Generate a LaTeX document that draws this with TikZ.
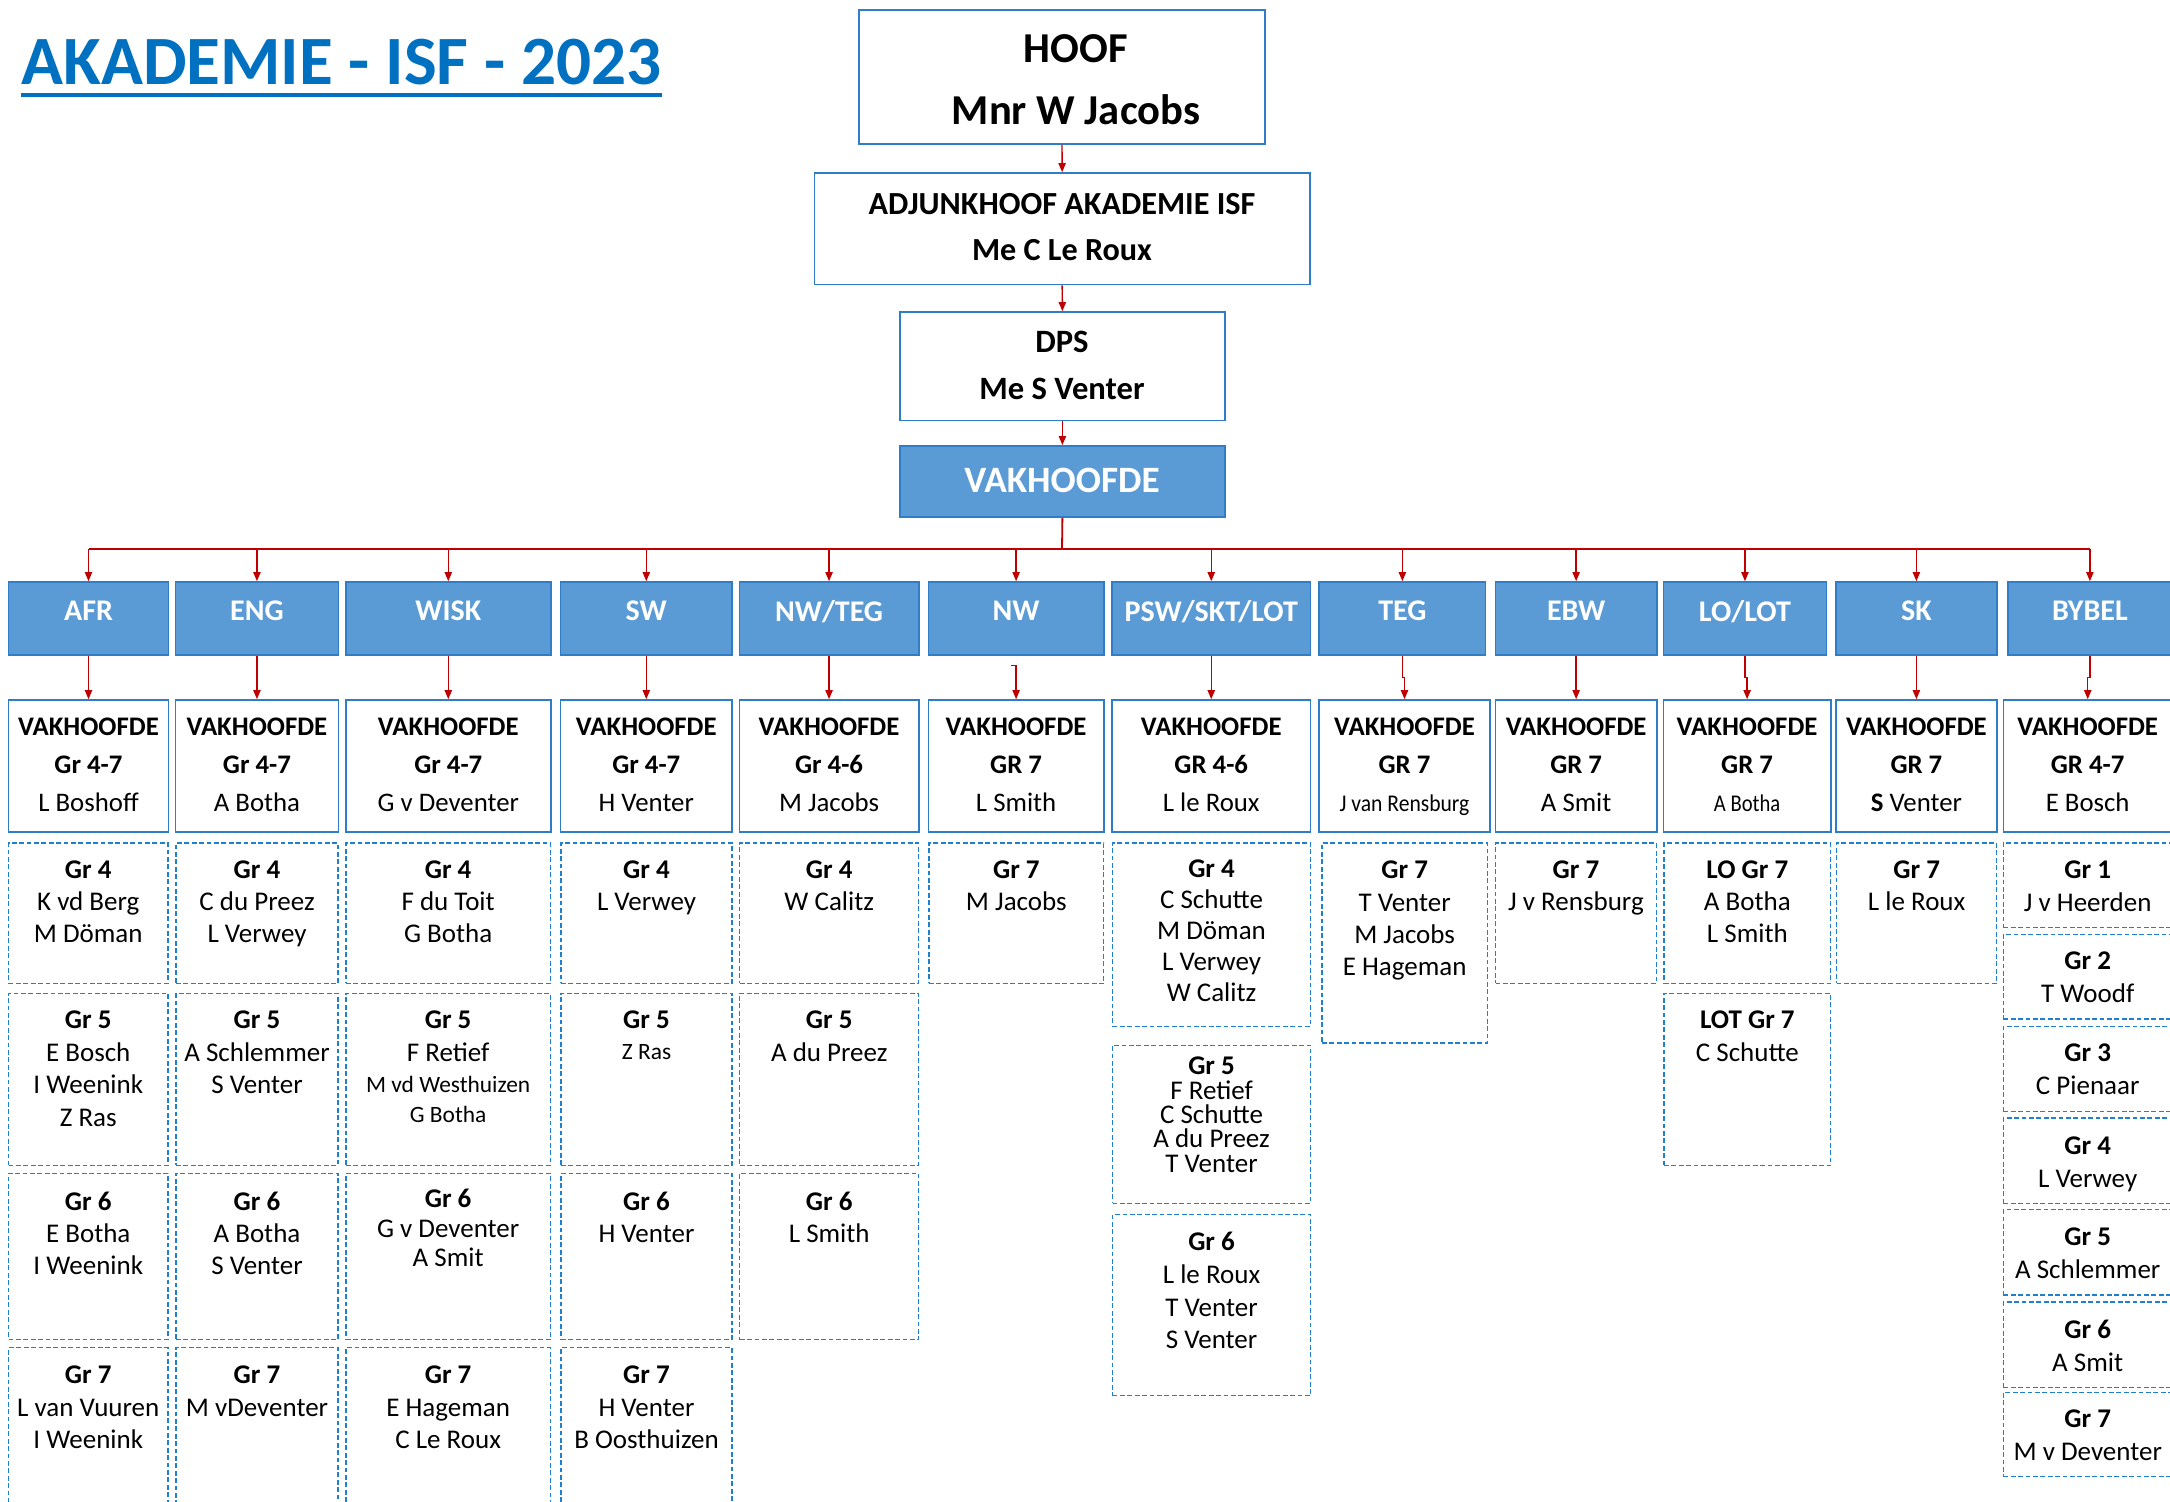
\documentclass[tikz,border=0pt]{standalone}
\usepackage{fontspec}
\setmainfont{Carlito}
\usepackage{graphicx}
\usetikzlibrary{arrows.meta,fit}
\definecolor{titleblue}{HTML}{0070C0}
\definecolor{boxblue}{HTML}{2E7DC6}
\definecolor{fillblue}{HTML}{5B9BD5}
\definecolor{dashblue}{HTML}{1F80D0}
\definecolor{linered}{HTML}{C00000}
\tikzset{
  solidbox/.style={draw=boxblue, line width=0.8pt, fill=white, inner sep=0pt},
  subjbox/.style={draw=boxblue, line width=0.8pt, fill=fillblue, inner sep=0pt},
  dashbox/.style={draw=dashblue, line width=0.6pt, dash pattern=on 2.4pt off 1.3pt, inner sep=0pt},
  txt/.style={inner sep=0pt, align=center, anchor=north},
  arr/.style={draw=linered, line width=0.7pt, -{Triangle[length=4.5pt,width=3.6pt]}},
  busline/.style={draw=linered, line width=0.9pt},
}
% name, x1, y1, x2, y2, cap top, pitch, text
\newcommand{\GrBox}[8]{%
  \node[dashbox, fit={(#2,#3) (#4,#5)}] (#1) {};
  \node[txt, font=\fontsize{13.5}{#7}\selectfont] (#1-t) at ({(#2+#4)/2},#6) {#8};
}
% name, x1, x2, text
\newcommand{\SubjBox}[4]{%
  \node[subjbox, fit={(#2,582) (#3,655)}] (#1) {};
  \node[txt, text=white, font=\fontsize{15}{17}\selectfont\bfseries] (#1-t) at ({(#2+#3)/2},600.5) {#4};
}
% name, x1, x2, grade, teacher
\newcommand{\HeadBox}[5]{%
  \node[solidbox, fit={(#2,700) (#3,832)}] (#1) {};
  \node[txt, font=\fontsize{13.4}{19}\selectfont] (#1-t) at ({(#2+#3)/2},718) {\textbf{VAKHOOFDE}\\\textbf{#4}\\#5};
}
\begin{document}
\begin{tikzpicture}[x=0.5pt,y=-0.5pt]
\useasboundingbox (0,0) rectangle (2170,1502);
\fill[white] (0,0) rectangle (2170,1502);

% title
\node[inner sep=0pt, anchor=base west, text=titleblue, font=\fontsize{34.6}{40}\selectfont\bfseries] (title) at (21,85) {AKADEMIE - ISF - 2023};
\draw[titleblue, line width=2pt] ([yshift=-4.85pt]title.base west) -- ([yshift=-4.85pt]title.base east);

% top chain
\node[solidbox, fit={(859,10) (1265,144)}] (hoof) {};
\node[txt, font=\fontsize{21.3}{31.2}\selectfont\bfseries] (hoof-t) at (1076,34) {HOOF\\Mnr W Jacobs};
\node[solidbox, fit={(814.5,173) (1309.8,284.5)}] (adj) {};
\node[txt, font=\fontsize{16.1}{22.6}\selectfont\bfseries] (adj-t) at (1062,193.3) {ADJUNKHOOF AKADEMIE ISF\\Me C Le Roux};
\node[solidbox, fit={(900,312) (1224.8,420.7)}] (dps) {};
\node[txt, font=\fontsize{16.3}{23.8}\selectfont\bfseries] (dps-t) at (1062,330.5) {DPS\\Me S Venter};
\node[subjbox, fit={(900,445.9) (1224.8,517)}] (vak) {};
\node[txt, text=white, font=\fontsize{18.6}{20}\selectfont\bfseries] (vak-t) at (1062,467.5) {VAKHOOFDE};

\draw[arr] (hoof.south) -- (adj.north);
\draw[arr] (adj.south) -- (dps.north);
\draw[arr] (dps.south) -- (vak.north);

% subject boxes
\SubjBox{s1}{8.5}{168.5}{AFR}
\SubjBox{s2}{175.5}{338.4}{ENG}
\SubjBox{s3}{345.9}{550.7}{WISK}
\SubjBox{s4}{560.6}{732}{SW}
\SubjBox{s5}{739.3}{918.8}{NW/TEG}
\SubjBox{s6}{928.4}{1103.8}{NW}
\SubjBox{s7}{1112}{1310.5}{PSW/SKT/LOT}
\SubjBox{s8}{1319.2}{1485.5}{TEG}
\SubjBox{s9}{1495.6}{1656.7}{EBW}
\SubjBox{s10}{1663.4}{1826.5}{LO/LOT}
\SubjBox{s11}{1836}{1996.8}{SK}
\SubjBox{s12}{2007.8}{2172}{BYBEL}

% bus
\coordinate (bus) at (1062,549);
\draw[busline] (vak.south) -- (bus);
\draw[busline] (s1.north |- bus) -- (s12.north |- bus);
\foreach \s in {s1,s2,s3,s4,s5,s6,s7,s8,s9,s10,s11,s12}
  \draw[arr] (\s.north |- bus) -- (\s.north);

% head boxes
\HeadBox{v1}{8.5}{168.5}{Gr 4-7}{L Boshoff}
\HeadBox{v2}{175.5}{338.4}{Gr 4-7}{A Botha}
\HeadBox{v3}{345.9}{550.7}{Gr 4-7}{G v Deventer}
\HeadBox{v4}{560.6}{732}{Gr 4-7}{H Venter}
\HeadBox{v5}{739.3}{918.8}{Gr 4-6}{M Jacobs}
\HeadBox{v6}{928.4}{1103.8}{GR 7}{L Smith}
\HeadBox{v7}{1112}{1310.5}{GR 4-6}{L le Roux}
\HeadBox{v8}{1319.2}{1489.8}{GR 7}{\scalebox{0.9}[1]{\fontsize{12}{12}\selectfont J van Rensburg}}
\HeadBox{v9}{1495.6}{1656.7}{GR 7}{A Smit}
\HeadBox{v10}{1663.4}{1830.8}{GR 7}{\scalebox{0.86}[1]{\fontsize{12}{12}\selectfont A Botha}}
\HeadBox{v11}{1836}{1996.8}{GR 7}{\textbf{S} Venter}
\HeadBox{v12}{2003.4}{2172}{GR 4-7}{E Bosch}

\draw[arr] (s1.south) -- (v1.north);
\draw[arr] (s2.south) -- (v2.north);
\draw[arr] (s3.south) -- (v3.north);
\draw[arr] (s4.south) -- (v4.north);
\draw[arr] (s5.south) -- (v5.north);
\coordinate (nwstart) at (1010.6,665.7);
\draw[arr] (nwstart) -| (v6.north);
\draw[arr] (s7.south) -- (v7.north);
\draw[arr] (s8.south) -- ++(0,22) -| (v8.north);
\draw[arr] (s9.south) -- (v9.north);
\draw[arr] (s10.south) -- ++(0,22) -| (v10.north);
\draw[arr] (s11.south) -- (v11.north);
\draw[arr] (s12.south) -- ++(0,22) -| (v12.north);

% AFR
\GrBox{a4}{8.5}{842.9}{168}{983.4}{860.8}{16}{\textbf{Gr 4}\\K vd Berg\\M Döman}
\GrBox{a5}{8.5}{993.3}{168}{1165.2}{1010.8}{16.2}{\textbf{Gr 5}\\E Bosch\\I Weenink\\Z Ras}
\GrBox{a6}{8.5}{1173.3}{168}{1339.4}{1191.3}{16.2}{\textbf{Gr 6}\\E Botha\\I Weenink}
\GrBox{a7}{8.5}{1347.8}{168}{1515}{1365.3}{16.3}{\textbf{Gr 7}\\L van Vuuren\\I Weenink}
% ENG
\GrBox{e4}{176}{842.9}{338}{983.4}{860.8}{16}{\textbf{Gr 4}\\C du Preez\\L Verwey}
\GrBox{e5}{176}{993.3}{338}{1165.2}{1010.8}{16.2}{\textbf{Gr 5}\\A Schlemmer\\S Venter}
\GrBox{e6}{176}{1173.3}{338}{1339.4}{1191.3}{16.2}{\textbf{Gr 6}\\A Botha\\S Venter}
\GrBox{e7}{176}{1347.8}{338}{1515}{1365.3}{16.3}{\textbf{Gr 7}\\M vDeventer}
% WISK
\GrBox{w4}{346}{842.9}{550.3}{983.4}{860.8}{16}{\textbf{Gr 4}\\F du Toit\\G Botha}
\GrBox{w5}{346}{993.3}{550.3}{1165.2}{1010.8}{16.5}{\textbf{Gr 5}\\F Retief\\[-1pt]{\fontsize{11.7}{13}\selectfont M vd Westhuizen}\\[-1.5pt]{\fontsize{11.7}{13}\selectfont G Botha}}
\GrBox{w6}{346}{1173.3}{550.3}{1339.4}{1189.1}{14.7}{\textbf{Gr 6}\\G v Deventer\\A Smit}
\GrBox{w7}{346}{1347.8}{550.3}{1515}{1365.3}{16.3}{\textbf{Gr 7}\\E Hageman\\C Le Roux}
% SW
\GrBox{sw4}{561}{842.9}{732}{983.4}{860.8}{16}{\textbf{Gr 4}\\L Verwey}
\GrBox{sw5}{561}{993.3}{732}{1165.2}{1010.8}{15.5}{\textbf{Gr 5}\\{\fontsize{11.7}{13}\selectfont Z Ras}}
\GrBox{sw6}{561}{1173.3}{732}{1339.4}{1191.3}{16.2}{\textbf{Gr 6}\\H Venter}
\GrBox{sw7}{561}{1347.8}{732}{1515}{1365.3}{16.3}{\textbf{Gr 7}\\H Venter\\B Oosthuizen}
% NW/TEG
\GrBox{nt4}{739.7}{842.9}{918.8}{983.4}{860.8}{16}{\textbf{Gr 4}\\W Calitz}
\GrBox{nt5}{739.7}{993.3}{918.8}{1165.2}{1010.8}{16.5}{\textbf{Gr 5}\\A du Preez}
\GrBox{nt6}{739.7}{1173.3}{918.8}{1339.6}{1191.3}{16.2}{\textbf{Gr 6}\\L Smith}
% NW
\GrBox{nw7}{928.9}{842.9}{1103.8}{983.4}{860.8}{16}{\textbf{Gr 7}\\M Jacobs}
% PSW/SKT/LOT
\GrBox{p4}{1112.6}{842.9}{1310.5}{1026.3}{859.1}{15.5}{\textbf{Gr 4}\\C Schutte\\M Döman\\L Verwey\\W Calitz}
\GrBox{p5}{1112.6}{1045.2}{1310.5}{1203.3}{1056.7}{12.15}{\textbf{Gr 5}\\F Retief\\C Schutte\\A du Preez\\T Venter}
\GrBox{p6}{1112.6}{1214.5}{1310.5}{1395.8}{1232}{16.3}{\textbf{Gr 6}\\L le Roux\\T Venter\\S Venter}
% TEG
\GrBox{t7}{1321.9}{842.9}{1487.4}{1043}{860.8}{16.1}{\textbf{Gr 7}\\T Venter\\M Jacobs\\E Hageman}
% EBW
\GrBox{eb7}{1495.6}{842.9}{1656.3}{983.4}{860.8}{16}{\textbf{Gr 7}\\J v Rensburg}
% LO/LOT
\GrBox{lo7}{1663.9}{842.9}{1830.8}{983.4}{860.8}{16}{\textbf{LO Gr 7}\\A Botha\\L Smith}
\GrBox{lot7}{1663.9}{993.3}{1830.8}{1165.6}{1010.8}{16.5}{\textbf{LOT Gr 7}\\C Schutte}
% SK
\GrBox{sk7}{1836.5}{842.9}{1996.8}{983.4}{860.8}{16}{\textbf{Gr 7}\\L le Roux}
% BYBEL
\GrBox{b1}{2003.4}{842.9}{2172}{927.7}{860.8}{16.1}{\textbf{Gr 1}\\J v Heerden}
\GrBox{b2}{2003.4}{934.2}{2172}{1019}{951.7}{16.5}{\textbf{Gr 2}\\T Woodf}
\GrBox{b3}{2003.4}{1026.3}{2172}{1111.6}{1043.8}{16.5}{\textbf{Gr 3}\\C Pienaar}
\GrBox{b4}{2003.4}{1118}{2172}{1203.3}{1136}{16.5}{\textbf{Gr 4}\\L Verwey}
\GrBox{b5}{2003.4}{1209.8}{2172}{1295}{1227.7}{16.1}{\textbf{Gr 5}\\A Schlemmer}
\GrBox{b6}{2003.4}{1301.9}{2172}{1387.2}{1319.8}{16.6}{\textbf{Gr 6}\\A Smit}
\GrBox{b7}{2003.4}{1392.4}{2172}{1476.4}{1409}{16.6}{\textbf{Gr 7}\\M v Deventer}
\end{tikzpicture}
\end{document}
